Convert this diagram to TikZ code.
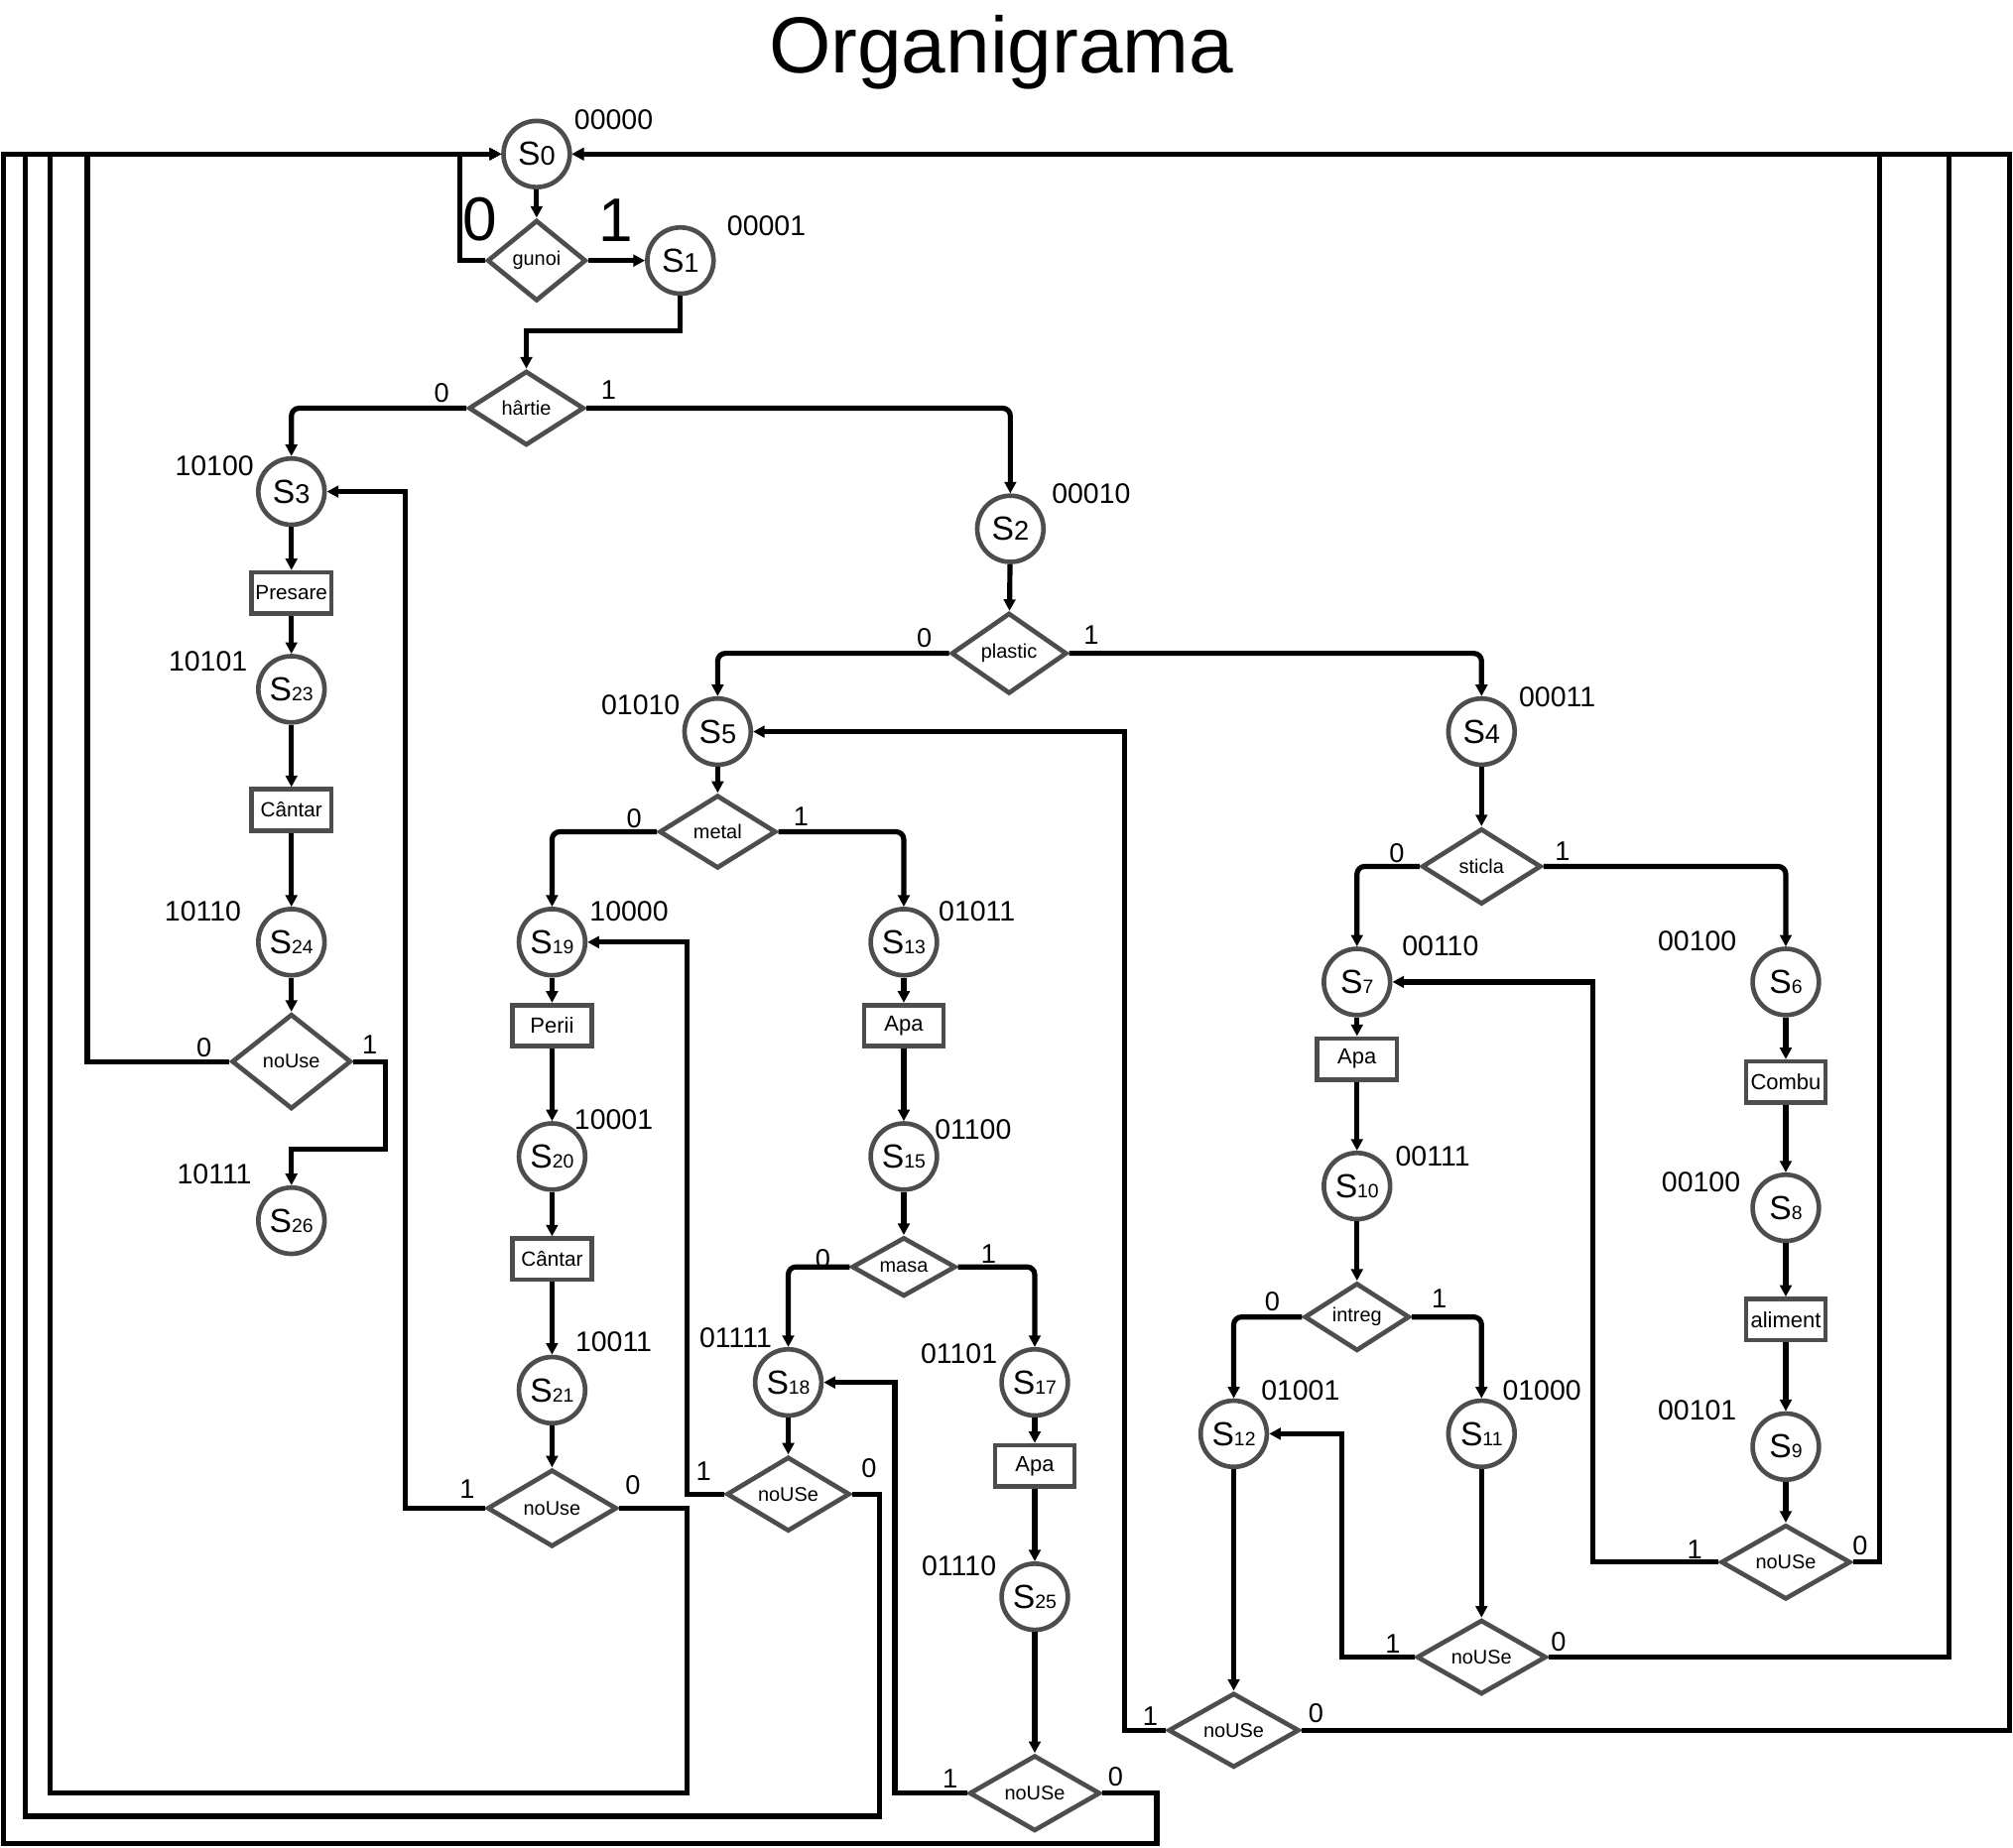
\documentclass[tikz,border=0pt]{standalone}
\usepackage{fontspec}
\setmainfont{Liberation Sans}
\usetikzlibrary{shapes.geometric,arrows.meta}
\definecolor{ngray}{RGB}{77,77,77}
\newcommand\Sa[1]{{\fontsize{13}{13}\selectfont S}{\fontsize{10.5}{10.5}\selectfont #1}}
\newcommand\Sb[1]{{\fontsize{13}{13}\selectfont S}{\fontsize{7.5}{7.5}\selectfont #1}}
\tikzset{
  stnode/.style={circle, draw=ngray, line width=1.8pt, minimum size=25.8pt, inner sep=0pt},
  dec/.style={diamond, draw=ngray, line width=1.8pt, inner sep=0pt, font=\fontsize{7.7}{8}\selectfont},
  act/.style={rectangle, draw=ngray, line width=1.8pt, minimum width=31pt, minimum height=16pt, inner sep=0pt, font=\fontsize{8}{9}\selectfont},
  actb/.style={act, font=\fontsize{8.5}{9}\selectfont},
  con/.style={line width=2pt, -{Triangle[length=4.5pt,width=4.5pt]}},
  rc/.style={rounded corners=3pt},
  code/.style={font=\fontsize{11}{12}\selectfont, inner sep=0pt},
  bl/.style={font=\fontsize{10.5}{11}\selectfont, inner sep=0pt},
  bigl/.style={font=\fontsize{24}{24}\selectfont, inner sep=0pt},
}
\begin{document}
\begin{tikzpicture}[x=0.5pt,y=-0.5pt]
\useasboundingbox (0,0) rectangle (1568,1439);
\node[font=\fontsize{31}{31}\selectfont, anchor=base, inner sep=0pt] (title) at (780,57) {Organigrama};

% ---------- top ----------
\node[stnode] (S0) at (418,120) {\Sa{0}};
\node[code] (c0) at (478,93) {00000};
\node[dec, minimum width=38.5pt, minimum height=31.5pt] (gunoi) at (418,203) {gunoi};
\node[stnode] (S1) at (530,203) {\Sa{1}};
\node[code] (c1) at (597,176) {00001};
\node[bigl] (g0) at (374,171) {0};
\node[bigl] (g1) at (480,172) {1};
\node[dec, minimum width=45pt, minimum height=29pt] (hartie) at (410,318) {hârtie};
\node[bl] (h0) at (344,306) {0};
\node[bl] (h1) at (474,304) {1};

% ---------- left column ----------
\node[stnode] (S3) at (227,383) {\Sa{3}};
\node[code] (c3) at (167,363) {10100};
\node[act] (pres) at (227,462) {Presare};
\node[stnode] (S23) at (227,537) {\Sb{23}};
\node[code] (c23) at (162,515) {10101};
\node[act] (cant1) at (227,631) {Cântar};
\node[stnode] (S24) at (227,734) {\Sb{24}};
\node[code] (c24) at (158,710) {10110};
\node[dec, minimum width=46.5pt, minimum height=37pt] (nuL) at (227,827) {noUse};
\node[bl] (nuL0) at (159,816) {0};
\node[bl] (nuL1) at (288,814) {1};
\node[stnode] (S26) at (227,951) {\Sb{26}};
\node[code] (c26) at (167,915) {10111};

% ---------- plastic ----------
\node[stnode] (S2) at (787,412) {\Sa{2}};
\node[code] (c2) at (850,385) {00010};
\node[dec, minimum width=45pt, minimum height=31.5pt] (plastic) at (786,509) {plastic};
\node[bl] (p0) at (720,497) {0};
\node[bl] (p1) at (850,495) {1};
\node[stnode] (S5) at (559,570) {\Sa{5}};
\node[code] (c5) at (499,549) {01010};
\node[stnode] (S4) at (1154,570) {\Sa{4}};
\node[code] (c4) at (1213,543) {00011};

% ---------- metal ----------
\node[dec, minimum width=45.5pt, minimum height=28.5pt] (metal) at (559,648) {metal};
\node[bl] (m0) at (494,638) {0};
\node[bl] (m1) at (624,636) {1};
\node[stnode] (S19) at (430,734) {\Sb{19}};
\node[code] (c19) at (490,710) {10000};
\node[stnode] (S13) at (704,734) {\Sb{13}};
\node[code] (c13) at (761,710) {01011};
\node[actb] (perii) at (430,799) {Perii};
\node[actb] (apa1) at (704,799) {Apa};
\node[stnode] (S20) at (430,901) {\Sb{20}};
\node[code] (c20) at (478,872) {10001};
\node[stnode] (S15) at (704,901) {\Sb{15}};
\node[code] (c15) at (758,880) {01100};
\node[act] (cant2) at (430,981) {Cântar};
\node[dec, minimum width=40.5pt, minimum height=21.5pt] (masa) at (704,987) {masa};
\node[bl] (ma0) at (641,981) {0};
\node[bl] (ma1) at (770,977) {1};
\node[stnode] (S21) at (430,1083) {\Sb{21}};
\node[code] (c21) at (478,1045) {10011};
\node[stnode] (S18) at (614,1077) {\Sb{18}};
\node[code] (c18) at (573,1042) {01111};
\node[stnode] (S17) at (806,1077) {\Sb{17}};
\node[code] (c17) at (747,1055) {01101};
\node[dec, minimum width=50.5pt, minimum height=30pt] (nu21) at (430,1175) {noUse};
\node[bl] (nu21a) at (364,1160) {1};
\node[bl] (nu21b) at (493,1157) {0};
\node[dec, minimum width=48pt, minimum height=27.5pt] (nu18) at (614,1164) {noUSe};
\node[bl] (nu18a) at (548,1146) {1};
\node[bl] (nu18b) at (677,1144) {0};
\node[actb] (apa2) at (806,1142) {Apa};
\node[stnode] (S25) at (806,1244) {\Sb{25}};
\node[code] (c25) at (747,1220) {01110};
\node[dec, minimum width=51pt, minimum height=29.5pt] (nu25) at (806,1397) {noUSe};
\node[bl] (nu25a) at (740,1386) {1};
\node[bl] (nu25b) at (869,1384) {0};

% ---------- sticla ----------
\node[dec, minimum width=46.5pt, minimum height=29.5pt] (sticla) at (1154,675) {sticla};
\node[bl] (s0) at (1088,665) {0};
\node[bl] (s1) at (1217,663) {1};
\node[stnode] (S7) at (1057,765) {\Sb{7}};
\node[code] (c7) at (1122,737) {00110};
\node[stnode] (S6) at (1391,765) {\Sb{6}};
\node[code] (c6) at (1322,733) {00100};
\node[actb] (apa3) at (1057,825) {Apa};
\node[actb] (combu) at (1391,843) {Combu};
\node[stnode] (S10) at (1057,924) {\Sb{10}};
\node[code] (c10) at (1116,901) {00111};
\node[stnode] (S8) at (1391,941) {\Sb{8}};
\node[code] (c8) at (1325,921) {00100};
\node[dec, minimum width=41pt, minimum height=22pt] (intreg) at (1057,1026) {intreg};
\node[bl] (i0) at (991,1014) {0};
\node[bl] (i1) at (1121,1012) {1};
\node[actb] (alim) at (1391,1028) {aliment};
\node[stnode] (S12) at (961,1117) {\Sb{12}};
\node[code] (c12) at (1013,1083) {01001};
\node[stnode] (S11) at (1154,1117) {\Sb{11}};
\node[code] (c11) at (1201,1083) {01000};
\node[stnode] (S9) at (1391,1127) {\Sb{9}};
\node[code] (c9) at (1322,1099) {00101};
\node[dec, minimum width=50.5pt, minimum height=25pt] (nu9) at (1391,1217) {noUSe};
\node[bl] (nu9a) at (1320,1207) {1};
\node[bl] (nu9b) at (1449,1204) {0};
\node[dec, minimum width=50.5pt, minimum height=25.5pt] (nu11) at (1154,1291) {noUSe};
\node[bl] (nu11a) at (1085,1281) {1};
\node[bl] (nu11b) at (1214,1279) {0};
\node[dec, minimum width=51pt, minimum height=26pt] (nu12) at (961,1348) {noUSe};
\node[bl] (nu12a) at (896,1337) {1};
\node[bl] (nu12b) at (1025,1335) {0};

% ---------- connectors ----------
\draw[con] (S0) -- (gunoi);
\draw[con] (gunoi) -- (S1);
\draw[con] (gunoi.west) -| (358,120) -- (S0.west);
\draw[con] (S1.south) -- (530,258) -| (hartie.north);
\draw[con,rc] (hartie.west) -| (S3.north);
\draw[con,rc] (hartie.east) -| (S2.north);

\draw[con] (S3) -- (pres);
\draw[con] (pres) -- (S23);
\draw[con] (S23) -- (cant1);
\draw[con] (cant1) -- (S24);
\draw[con] (S24) -- (nuL);
\draw[con] (nuL.east) -| (300,895) -| (S26.north);
\draw[con] (nuL.west) -| (68,120) -- (S0.west);

\draw[con] (S2) -- (plastic);
\draw[con,rc] (plastic.west) -| (S5.north);
\draw[con,rc] (plastic.east) -| (S4.north);

\draw[con] (S5) -- (metal);
\draw[con,rc] (metal.west) -| (S19.north);
\draw[con,rc] (metal.east) -| (S13.north);
\draw[con] (S19) -- (perii);
\draw[con] (perii) -- (S20);
\draw[con] (S20) -- (cant2);
\draw[con] (cant2) -- (S21);
\draw[con] (S21) -- (nu21);
\draw[con] (nu21.west) -- (316,1175) |- (S3.east);
\draw[con] (nu21.east) -| (535,1397) -| (39,120) -- (S0.west);

\draw[con] (S13) -- (apa1);
\draw[con] (apa1) -- (S15);
\draw[con] (S15) -- (masa);
\draw[con,rc] (masa.west) -| (S18.north);
\draw[con,rc] (masa.east) -| (S17.north);
\draw[con] (S18) -- (nu18);
\draw[con] (nu18.west) -- (535,1164) |- (S19.east);
\draw[con] (nu18.east) -| (685,1415) -| (20,120) -- (S0.west);
\draw[con] (S17) -- (apa2);
\draw[con] (apa2) -- (S25);
\draw[con] (S25) -- (nu25);
\draw[con] (nu25.west) -- (697,1397) |- (S18.east);
\draw[con] (nu25.east) -| (901,1436) -| (3,120) -- (S0.west);

\draw[con] (S4) -- (sticla);
\draw[con,rc] (sticla.west) -| (S7.north);
\draw[con,rc] (sticla.east) -| (S6.north);
\draw[con] (S7) -- (apa3);
\draw[con] (apa3) -- (S10);
\draw[con] (S10) -- (intreg);
\draw[con,rc] (intreg.west) -| (S12.north);
\draw[con,rc] (intreg.east) -| (S11.north);
\draw[con] (S6) -- (combu);
\draw[con] (combu) -- (S8);
\draw[con] (S8) -- (alim);
\draw[con] (alim) -- (S9);
\draw[con] (S9) -- (nu9);
\draw[con] (nu9.west) -- (1241,1217) |- (S7.east);
\draw[con] (nu9.east) -| (1464,120) -- (S0.east);
\draw[con] (S11) -- (nu11);
\draw[con] (nu11.west) -- (1045,1291) |- (S12.east);
\draw[con] (nu11.east) -| (1518,120) -- (S0.east);
\draw[con] (S12) -- (nu12);
\draw[con] (nu12.west) -- (876,1348) |- (S5.east);
\draw[con] (nu12.east) -| (1565,120) -- (S0.east);
\end{tikzpicture}
\end{document}
